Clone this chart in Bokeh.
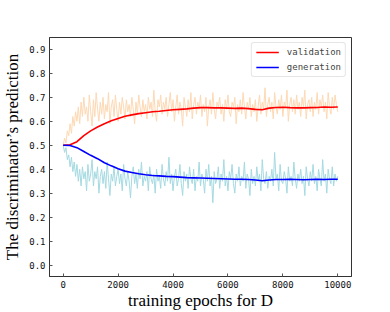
from bokeh.plotting import figure
from bokeh.models import Range1d, FixedTicker, NumeralTickFormatter, Legend, LegendItem
from bokeh.embed import file_html
from bokeh.resources import INLINE

# ---- data ----
epochs_raw = list(range(0, 10001, 50))
validation_raw = [
    0.50, 0.53, 0.51, 0.56, 0.54, 0.59, 0.55, 0.62, 0.58, 0.64,
    0.60, 0.66, 0.59, 0.68, 0.62, 0.70, 0.63, 0.66, 0.60, 0.71,
    0.64, 0.58, 0.69, 0.62, 0.72, 0.65, 0.60, 0.68, 0.63, 0.70,
    0.61, 0.67, 0.64, 0.72, 0.59, 0.66, 0.69, 0.62, 0.71, 0.65,
    0.60, 0.68, 0.63, 0.70, 0.66, 0.61, 0.69, 0.64, 0.67, 0.62,
    0.70, 0.65, 0.59, 0.68, 0.63, 0.71, 0.66, 0.62, 0.69, 0.64,
    0.67, 0.61, 0.70, 0.65, 0.68, 0.62, 0.73, 0.64, 0.60, 0.69,
    0.66, 0.71, 0.63, 0.68, 0.65, 0.70, 0.62, 0.67, 0.72, 0.64,
    0.69, 0.60, 0.66, 0.71, 0.63, 0.68, 0.65, 0.58, 0.70, 0.66,
    0.62, 0.69, 0.64, 0.72, 0.61, 0.67, 0.70, 0.63, 0.68, 0.65,
    0.71, 0.62, 0.67, 0.64, 0.70, 0.58, 0.66, 0.69, 0.63, 0.72,
    0.65, 0.61, 0.68, 0.66, 0.70, 0.63, 0.67, 0.60, 0.69, 0.65,
    0.71, 0.64, 0.62, 0.68, 0.66, 0.70, 0.59, 0.67, 0.64, 0.69,
    0.63, 0.72, 0.66, 0.61, 0.68, 0.65, 0.70, 0.62, 0.67, 0.64,
    0.69, 0.60, 0.66, 0.71, 0.63, 0.68, 0.65, 0.74, 0.62, 0.67,
    0.70, 0.64, 0.68, 0.61, 0.72, 0.66, 0.63, 0.69, 0.65, 0.71,
    0.62, 0.68, 0.66, 0.73, 0.60, 0.67, 0.70, 0.64, 0.69, 0.63,
    0.71, 0.65, 0.68, 0.62, 0.70, 0.66, 0.73, 0.61, 0.67, 0.69,
    0.64, 0.70, 0.62, 0.68, 0.65, 0.72, 0.63, 0.69, 0.66, 0.71,
    0.64, 0.68, 0.61, 0.72, 0.66, 0.63, 0.70, 0.65, 0.71, 0.67, 0.64,
]
generation_raw = [
    0.50, 0.47, 0.49, 0.44, 0.46, 0.41, 0.45, 0.39, 0.43, 0.37,
    0.42, 0.35, 0.40, 0.33, 0.41, 0.36, 0.39, 0.31, 0.42, 0.35,
    0.38, 0.44, 0.33, 0.39, 0.36, 0.41, 0.30, 0.37, 0.40, 0.34,
    0.39, 0.32, 0.43, 0.36, 0.29, 0.38, 0.35, 0.41, 0.33, 0.37,
    0.40, 0.34, 0.38, 0.31, 0.42, 0.36, 0.33, 0.39, 0.35, 0.28,
    0.37, 0.41, 0.34, 0.38, 0.32, 0.40, 0.36, 0.43, 0.33, 0.37,
    0.35, 0.39, 0.31, 0.41, 0.36, 0.34, 0.38, 0.30, 0.40, 0.35,
    0.37, 0.32, 0.42, 0.36, 0.33, 0.39, 0.35, 0.45, 0.34, 0.38,
    0.31, 0.37, 0.40, 0.33, 0.36, 0.42, 0.34, 0.29, 0.39, 0.35,
    0.38, 0.32, 0.41, 0.36, 0.34, 0.40, 0.31, 0.37, 0.35, 0.43,
    0.33, 0.38, 0.36, 0.30, 0.40, 0.35, 0.42, 0.33, 0.37, 0.26,
    0.39, 0.34, 0.36, 0.41, 0.32, 0.38, 0.35, 0.44, 0.33, 0.37,
    0.31, 0.39, 0.36, 0.42, 0.34, 0.30, 0.38, 0.35, 0.41, 0.33,
    0.37, 0.35, 0.43, 0.32, 0.38, 0.36, 0.29, 0.40, 0.34, 0.37,
    0.33, 0.41, 0.35, 0.38, 0.31, 0.44, 0.36, 0.34, 0.39, 0.32,
    0.37, 0.35, 0.40, 0.33, 0.47, 0.36, 0.38, 0.31, 0.42, 0.35,
    0.34, 0.39, 0.36, 0.30, 0.41, 0.35, 0.37, 0.33, 0.43, 0.36,
    0.32, 0.38, 0.35, 0.40, 0.34, 0.37, 0.29, 0.41, 0.36, 0.33,
    0.39, 0.35, 0.42, 0.34, 0.37, 0.31, 0.40, 0.36, 0.33, 0.44,
    0.35, 0.38, 0.30, 0.40, 0.36, 0.34, 0.41, 0.33, 0.38, 0.35, 0.37,
]
epochs_smooth = list(range(0, 10001, 250))
validation_smooth = [
    0.500, 0.502, 0.515, 0.540, 0.560, 0.576, 0.590, 0.602, 0.612, 0.621,
    0.627, 0.632, 0.636, 0.640, 0.642, 0.645, 0.648, 0.650, 0.652, 0.655,
    0.657, 0.657, 0.656, 0.656, 0.655, 0.654, 0.655, 0.653, 0.650, 0.648,
    0.655, 0.658, 0.659, 0.657, 0.656, 0.656, 0.657, 0.658, 0.660, 0.659, 0.660,
]
generation_smooth = [
    0.500, 0.499, 0.490, 0.474, 0.458, 0.444, 0.427, 0.414, 0.402, 0.392,
    0.386, 0.381, 0.377, 0.374, 0.372, 0.370, 0.369, 0.367, 0.365, 0.364,
    0.363, 0.362, 0.361, 0.360, 0.359, 0.358, 0.358, 0.357, 0.355, 0.352,
    0.355, 0.357, 0.357, 0.358, 0.357, 0.356, 0.357, 0.358, 0.357, 0.358, 0.358,
]
x_ticks = [0, 2000, 4000, 6000, 8000, 10000]
y_ticks = [0.0, 0.1, 0.2, 0.3, 0.4, 0.5, 0.6, 0.7, 0.8, 0.9]
series_labels = ["validation", "generation"]
x_label = "training epochs for D"
y_label = "The discriminator\u2019s prediction"

# ---- figure ----
p = figure(width=390, height=312, output_backend="svg", toolbar_location=None,
           x_range=Range1d(-500, 10500), y_range=Range1d(-0.048, 0.95),
           min_border_left=48, min_border_right=39, min_border_top=37, min_border_bottom=35)
p.background_fill_color = "white"
p.border_fill_color = "white"
p.outline_line_color = "#333333"
p.outline_line_width = 1
p.xgrid.visible = False
p.ygrid.visible = False

p.line(epochs_raw, validation_raw, line_color="#fdd9b4", line_width=1.0)
p.line(epochs_raw, generation_raw, line_color="#a5dae2", line_width=1.0)
r_val = p.line(epochs_smooth, validation_smooth, line_color="red", line_width=1.6)
r_gen = p.line(epochs_smooth, generation_smooth, line_color="blue", line_width=1.6)

tick_font = "DejaVu Sans Mono"
for ax in (p.xaxis[0], p.yaxis[0]):
    ax.major_tick_in = 3
    ax.major_tick_out = 0
    ax.minor_tick_line_color = None
    ax.major_tick_line_color = "#555555"
    ax.axis_line_color = "#333333"
    ax.major_label_text_font = tick_font
    ax.major_label_text_font_size = "9px"
    ax.major_label_text_color = "#111111"
    ax.major_label_standoff = 4
    ax.axis_label_text_font = "Liberation Serif"
    ax.axis_label_text_font_size = "17px"
    ax.axis_label_text_font_style = "normal"
    ax.axis_label_text_color = "black"

p.xaxis[0].ticker = FixedTicker(ticks=x_ticks)
p.xaxis[0].formatter = NumeralTickFormatter(format="0")
p.yaxis[0].ticker = FixedTicker(ticks=y_ticks)
p.yaxis[0].formatter = NumeralTickFormatter(format="0.0")

p.yaxis[0].axis_label = y_label
p.yaxis[0].axis_label_standoff = 4
p.xaxis[0].axis_label = x_label
p.xaxis[0].axis_label_standoff = 0

legend = Legend(items=[LegendItem(label=series_labels[0], renderers=[r_val]),
                       LegendItem(label=series_labels[1], renderers=[r_gen])],
                location="top_right")
legend.label_text_font = tick_font
legend.label_text_font_size = "9px"
legend.label_height = 10
legend.glyph_height = 10
legend.glyph_width = 23
legend.label_standoff = 8
legend.spacing = 5
legend.padding = 4
legend.margin = 5
legend.border_line_color = "#cccccc"
legend.border_line_width = 1
legend.background_fill_alpha = 0.85
try:
    legend.border_radius = 3
except Exception:
    pass
p.add_layout(legend)

open("out.html", "w").write(file_html(p, INLINE))
